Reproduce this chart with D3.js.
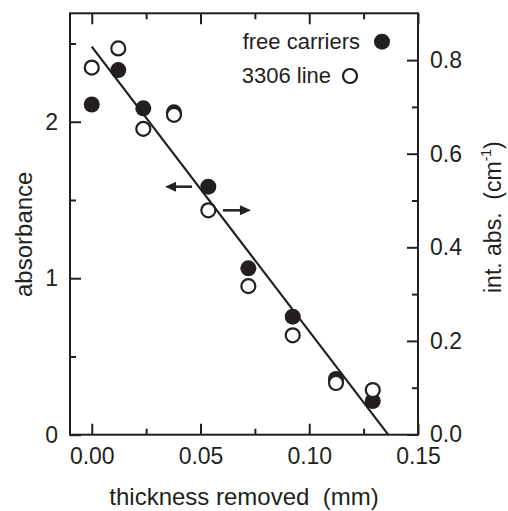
<!DOCTYPE html>
<html>
<head>
<meta charset="utf-8">
<script src="https://cdn.jsdelivr.net/npm/d3@7"></script>
<style>
  body { margin: 0; background: #fff; }
  svg text { font-family: "Liberation Sans", Arial, sans-serif; fill: #231f20; }
</style>
</head>
<body>
<div id="chart"></div>
<script>
// thickness removed (mm)
const thickness = [0.0, 0.0122, 0.0237, 0.0378, 0.0536, 0.072, 0.0924, 0.1123, 0.1292];
// free carriers, absorbance (left axis)
const freeCarriers = [2.11, 2.33, 2.086, 2.06, 1.585, 1.063, 0.754, 0.356, 0.215];
// 3306 line, int. abs. (right axis)
const line3306 = [0.784, 0.825, 0.653, 0.683, 0.479, 0.317, 0.212, 0.110, 0.095];
// linear fit on the absorbance scale
const fitX = [0.0, 0.1363];
const fitY = [2.48, 0.0];

const xTicks = [0, 0.05, 0.10, 0.15];
const xMinor = [0.025, 0.075, 0.125];
const leftTicks = [0, 1, 2];
const leftMinor = [0.5, 1.5, 2.5];
const rightTicks = [0.0, 0.2, 0.4, 0.6, 0.8];
const rightMinor = [0.1, 0.3, 0.5, 0.7];

const width = 508, height = 511;
const ink = "#231f20";

const svg = d3.select("#chart").append("svg")
  .attr("width", width)
  .attr("height", height);

const x = d3.scaleLinear().domain([-0.01, 0.15]).range([70, 418]);
const yL = d3.scaleLinear().domain([0, 2.693]).range([434.7, 13.3]);
const yR = d3.scaleLinear().domain([0, 0.9]).range([434.5, 13.3]);

const tickFont = 23, legendFont = 22, titleFont = 24;

function styleAxis(g) {
  g.select(".domain").remove();
  g.selectAll(".tick line").attr("stroke", ink).attr("stroke-width", 2);
  g.selectAll(".tick text").attr("font-size", tickFont).attr("fill", ink)
    .attr("font-family", "Liberation Sans, Arial, sans-serif");
}

// bottom
svg.append("g").attr("transform", `translate(0,${yL(0)})`)
  .call(d3.axisBottom(x).tickValues(xTicks).tickSize(-11).tickPadding(13)
    .tickFormat(d3.format(".2f")))
  .call(styleAxis);
svg.append("g").attr("transform", `translate(0,${yL(0)})`)
  .call(d3.axisBottom(x).tickValues(xMinor).tickSize(-6).tickFormat(""))
  .call(styleAxis);
// top
svg.append("g").attr("transform", `translate(0,${yL.range()[1]})`)
  .call(d3.axisTop(x).tickValues(xTicks).tickSize(-11).tickFormat(""))
  .call(styleAxis);
svg.append("g").attr("transform", `translate(0,${yL.range()[1]})`)
  .call(d3.axisTop(x).tickValues(xMinor).tickSize(-6).tickFormat(""))
  .call(styleAxis);
// left
svg.append("g").attr("transform", `translate(${x.range()[0]},0)`)
  .call(d3.axisLeft(yL).tickValues(leftTicks).tickSize(-11).tickPadding(12)
    .tickFormat(d3.format("d")))
  .call(styleAxis);
svg.append("g").attr("transform", `translate(${x.range()[0]},0)`)
  .call(d3.axisLeft(yL).tickValues(leftMinor).tickSize(-6).tickFormat(""))
  .call(styleAxis);
// right
svg.append("g").attr("transform", `translate(${x.range()[1]},0)`)
  .call(d3.axisRight(yR).tickValues(rightTicks).tickSize(-11).tickPadding(12)
    .tickFormat(d3.format(".1f")))
  .call(styleAxis);
svg.append("g").attr("transform", `translate(${x.range()[1]},0)`)
  .call(d3.axisRight(yR).tickValues(rightMinor).tickSize(-6).tickFormat(""))
  .call(styleAxis);

// frame
svg.append("rect")
  .attr("x", x.range()[0]).attr("y", yL.range()[1])
  .attr("width", x.range()[1] - x.range()[0])
  .attr("height", yL.range()[0] - yL.range()[1])
  .attr("fill", "none").attr("stroke", ink).attr("stroke-width", 2);

// fit line
svg.append("line")
  .attr("x1", x(fitX[0])).attr("y1", yL(fitY[0]))
  .attr("x2", x(fitX[1])).attr("y2", yL(fitY[1]))
  .attr("stroke", ink).attr("stroke-width", 2.2);

// free carriers (filled)
svg.append("g").selectAll("circle")
  .data(thickness)
  .join("circle")
  .attr("cx", d => x(d))
  .attr("cy", (d, i) => yL(freeCarriers[i]))
  .attr("r", 8)
  .attr("fill", ink);

// 3306 line (open)
svg.append("g").selectAll("circle")
  .data(thickness)
  .join("circle")
  .attr("cx", d => x(d))
  .attr("cy", (d, i) => yR(line3306[i]))
  .attr("r", 7)
  .attr("fill", "#fff")
  .attr("stroke", ink)
  .attr("stroke-width", 2.2);

// arrows pointing to the axis each series belongs to
function arrow(x1, x2, y) {
  const dir = Math.sign(x2 - x1);
  svg.append("line")
    .attr("x1", x1).attr("y1", y)
    .attr("x2", x2 - dir * 8).attr("y2", y)
    .attr("stroke", ink).attr("stroke-width", 2.5);
  svg.append("path")
    .attr("d", `M${x2},${y} L${x2 - dir * 11},${y - 5} L${x2 - dir * 11},${y + 5} Z`)
    .attr("fill", ink);
}
arrow(x(0.0461), x(0.0337), yL(1.585));
arrow(x(0.0603), x(0.0732), yR(0.479));

// legend
const legend = svg.append("g");
legend.append("text").attr("x", 360).attr("y", 49).attr("text-anchor", "end")
  .attr("font-size", legendFont).text("free carriers");
legend.append("circle").attr("cx", 382).attr("cy", 41.7).attr("r", 8).attr("fill", ink);
legend.append("text").attr("x", 331).attr("y", 83).attr("text-anchor", "end")
  .attr("font-size", legendFont).text("3306 line");
legend.append("circle").attr("cx", 350).attr("cy", 76).attr("r", 7)
  .attr("fill", "#fff").attr("stroke", ink).attr("stroke-width", 2.2);

// axis titles
svg.append("text")
  .attr("x", 244).attr("y", 505)
  .attr("text-anchor", "middle")
  .attr("font-size", titleFont)
  .style("white-space", "pre")
  .text("thickness removed  (mm)");

svg.append("text")
  .attr("transform", "translate(32,297) rotate(-90)")
  .attr("text-anchor", "start")
  .attr("font-size", titleFont)
  .text("absorbance");

const rt = svg.append("text")
  .attr("transform", "translate(501,293) rotate(-90)")
  .attr("text-anchor", "start")
  .attr("font-size", 23)
  .style("white-space", "pre");
rt.append("tspan").text("int. abs.  (cm");
rt.append("tspan").attr("font-size", 14).attr("dy", -10).text("-1");
rt.append("tspan").attr("dy", 10).text(")");
</script>
</body>
</html>
